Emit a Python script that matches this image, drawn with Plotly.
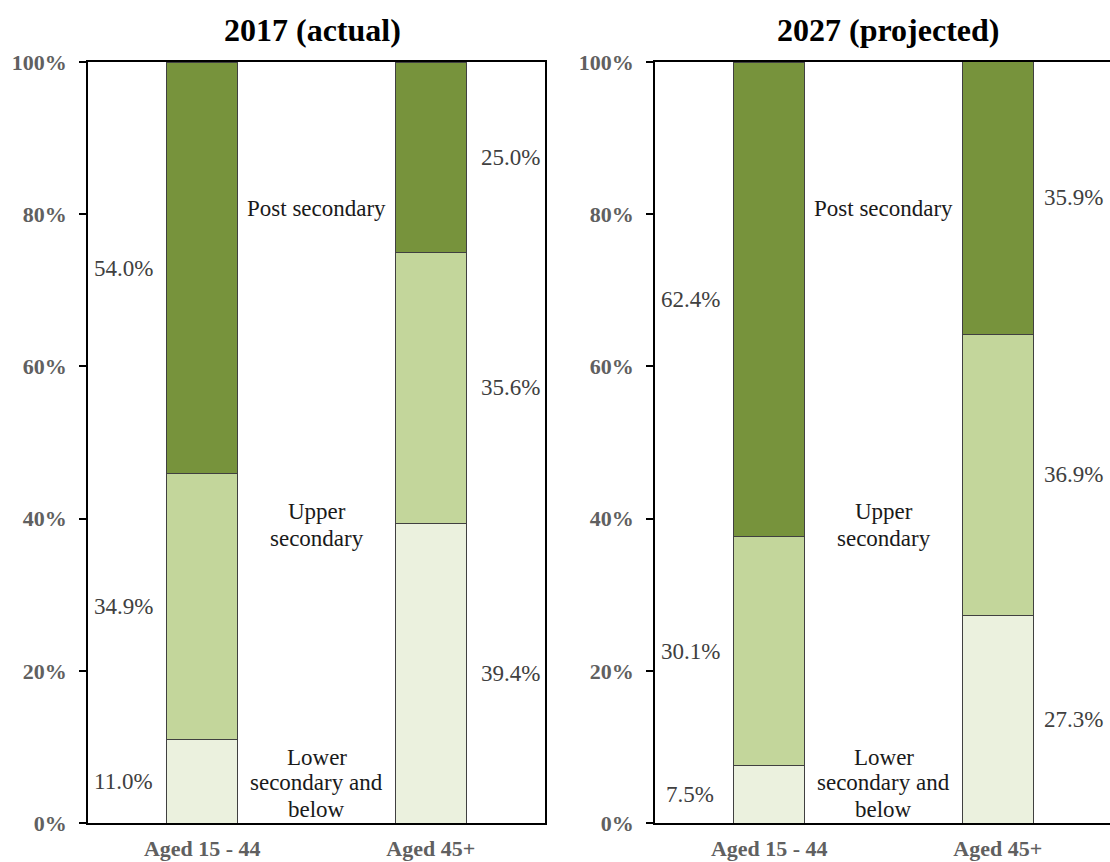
import plotly.graph_objects as go
from plotly.subplots import make_subplots

categories = ["Aged 15 - 44", "Aged 45+"]
levels = ["Lower secondary and below", "Upper secondary", "Post secondary"]
panel_titles = ["2017 (actual)", "2027 (projected)"]
tick_vals = [0, 20, 40, 60, 80, 100]
tick_text = ["0%", "20%", "40%", "60%", "80%", "100%"]

lower_2017 = [11.0, 39.4]
upper_2017 = [34.9, 35.6]
post_2017 = [54.0, 25.0]

lower_2027 = [7.5, 27.3]
upper_2027 = [30.1, 36.9]
post_2027 = [62.4, 35.9]

# category labels between bars: text line, y position (%)
level_lines = ["Post secondary", "Upper", "secondary", "Lower", "secondary and", "below"]
level_line_y = [80.7, 40.9, 37.45, 8.67, 5.26, 1.84]

colors = ["#EBF1DE", "#C3D69B", "#77933C"]

panels = [
    [lower_2017, upper_2017, post_2017],
    [lower_2027, upper_2027, post_2027],
]

fig = make_subplots(rows=1, cols=2, horizontal_spacing=0.0)

# figure is 2px wider than the window so the right panel's frame edge falls off-screen
W, H = 1112, 862
SERIF = "Liberation Serif, Times New Roman, serif"
fig.update_layout(
    width=W, height=H,
    margin=dict(l=0, r=0, t=0, b=0, pad=0, autoexpand=False),
    plot_bgcolor="white", paper_bgcolor="white",
    barmode="stack", bargap=0.69, showlegend=False,
    font=dict(family=SERIF, color="#000000"),
)

top_px, bot_px = 62, 823
domains_px = [(88, 545), (655, 1112)]
xranges = [[-0.5, 1.5], [-0.5, 1.5]]
title_x_px = [312.5, 888]
label_offsets = [(-0.345, 0.35), (-0.345, 0.332)]

annotations = []
for p, series in enumerate(panels):
    col = p + 1
    for i, vals in enumerate(series):
        fig.add_trace(go.Bar(
            x=[0, 1], y=vals, name=levels[i],
            marker=dict(color=colors[i], line=dict(color="#404040", width=1)),
            hoverinfo="skip",
        ), row=1, col=col)
    xref = "x" if p == 0 else "x2"
    yref = "y" if p == 0 else "y2"
    # percentage labels at segment midpoints
    for j in range(len(categories)):
        base = 0.0
        for i, vals in enumerate(series):
            mid = base + vals[j] / 2
            base += vals[j]
            xpos = j + label_offsets[p][j]
            annotations.append(dict(
                x=xpos, y=mid, xref=xref, yref=yref, text=f"{vals[j]:.1f}%",
                showarrow=False, font=dict(family=SERIF, size=23, color="#404040"),
            ))
    # level labels between bars
    for txt, yy in zip(level_lines, level_line_y):
        annotations.append(dict(
            x=0.5, y=yy, xref=xref, yref=yref, text=txt,
            showarrow=False, font=dict(family=SERIF, size=23, color="#1a1a1a"),
        ))
    # panel title
    annotations.append(dict(
        x=title_x_px[p] / W, y=1 - 30 / H, xref="paper", yref="paper",
        xanchor="center", yanchor="middle",
        text=f"<b>{panel_titles[p]}</b>", showarrow=False,
        font=dict(family=SERIF, size=32, color="#000000"),
    ))

fig.update_layout(annotations=annotations)

for p in range(2):
    d0, d1 = domains_px[p]
    xa = dict(
        domain=[d0 / W, d1 / W], range=xranges[p], automargin=False,
        tickvals=[0, 1], ticktext=[f"<b>{c}</b>" for c in categories],
        showline=True, linecolor="#000000", linewidth=1.5, mirror=True,
        ticks="", showgrid=False, zeroline=False, ticklabelstandoff=5,
        tickfont=dict(family=SERIF, size=22, color="#606060"),
    )
    ya = dict(
        domain=[1 - bot_px / H, 1 - top_px / H], range=[0, 100], automargin=False,
        tickvals=tick_vals, ticktext=[f"<b>{t}</b>" for t in tick_text],
        showline=True, linecolor="#000000", linewidth=1.5, mirror=(p == 0),
        ticks="outside", ticklen=7, tickcolor="#000000", tickwidth=1.5,
        showgrid=False, zeroline=False, ticklabelstandoff=8,
        tickfont=dict(family=SERIF, size=22, color="#606060"),
    )
    if p == 0:
        fig.update_layout(xaxis=xa, yaxis=ya)
    else:
        fig.update_layout(xaxis2=xa, yaxis2=ya)

fig.write_html(
    "out.html",
    config={"displayModeBar": False},
    post_script="document.body.style.margin='0';document.body.style.overflow='hidden';",
)
